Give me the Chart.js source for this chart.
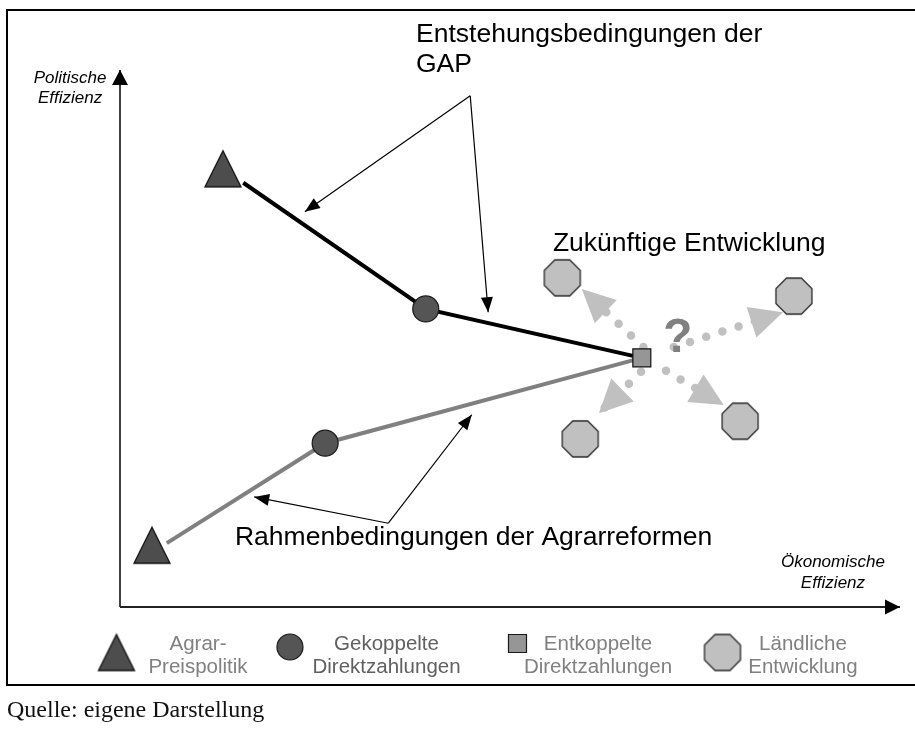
<!DOCTYPE html>
<html>
<head>
<meta charset="utf-8">
<script src="https://cdn.jsdelivr.net/npm/chart.js@4.4.0/dist/chart.umd.min.js"></script>
<style>
  html, body { margin: 0; padding: 0; background: #fff; overflow: hidden; }
  #wrap { position: relative; width: 915px; height: 733px; }
  #frame { position: absolute; left: 6px; top: 9px; width: 1000px; height: 673px; border: 2px solid #000; }
  #chart { position: absolute; left: 0; top: 0; }
  #quelle { position: absolute; left: 7px; top: 697px; font: 24px/24px "Liberation Serif", "Times New Roman", serif; color: #111; white-space: nowrap; }
</style>
</head>
<body>
<div id="wrap">
  <div id="frame"></div>
  <canvas id="chart" width="915" height="733"></canvas>
  <div id="quelle">Quelle: eigene Darstellung</div>
</div>
<script>
/*
  Schema: Politische vs. Ökonomische Effizienz der Agrarpolitik.
  Both axes run 0..100 (index units, origin = axis crossing).
*/

// ---- data (x = ökonomische Effizienz, y = politische Effizienz) ----
const agrarPreis  = [{ x: 13.2, y: 81.6 }, { x: 4.1, y: 11.5 }];
const gekoppelt   = [{ x: 39.2, y: 55.5 }, { x: 26.3, y: 30.5 }];
const entkoppelt  = [{ x: 66.9, y: 46.4 }];
const laendlich   = [{ x: 56.7, y: 61.3 }, { x: 86.4, y: 57.9 }, { x: 59.0, y: 31.3 }, { x: 79.5, y: 34.6 }];

const gapPfad     = [{ x: 15.8, y: 79.0 }, { x: 39.2, y: 55.5 }, { x: 66.9, y: 46.4 }];
const reformPfad  = [{ x: 6.0, y: 11.9 }, { x: 26.3, y: 30.5 }, { x: 66.9, y: 46.4 }];

const zukunftPfeile = [
  [{ x: 67.1, y: 48.4 }, { x: 59.2, y: 59.2 }],
  [{ x: 71.0, y: 48.4 }, { x: 85.0, y: 54.9 }],
  [{ x: 66.8, y: 43.8 }, { x: 61.4, y: 36.1 }],
  [{ x: 70.0, y: 44.0 }, { x: 77.4, y: 37.6 }]
];

const gapHinweis    = [[{ x: 44.9, y: 95.2 }, { x: 23.7, y: 73.6 }], [{ x: 44.9, y: 95.2 }, { x: 47.2, y: 54.9 }]];
const reformHinweis = [[{ x: 34.4, y: 15.6 }, { x: 17.2, y: 20.5 }], [{ x: 34.4, y: 15.6 }, { x: 45.1, y: 35.8 }]];

const achseX = [{ x: 0, y: 0 }, { x: 100, y: 0 }];
const achseY = [{ x: 0, y: 0 }, { x: 0, y: 100 }];

// ---- texts ----
const titelGap     = ["Entstehungsbedingungen der", "GAP"];
const titelZukunft = "Zukünftige Entwicklung";
const titelReform  = "Rahmenbedingungen der Agrarreformen";
const achseYTitel  = ["Politische", "Effizienz"];
const achseXTitel  = ["Ökonomische", "Effizienz"];
const legendLabels = [["Agrar-", "Preispolitik"], ["Gekoppelte", "Direktzahlungen"], ["Entkoppelte", "Direktzahlungen"], ["Ländliche", "Entwicklung"]];

const SANS = '"Liberation Sans", Arial, sans-serif';

// custom marker shapes (Chart.js has no octagon, and the triangle is not equilateral)
function makeShape(kind, size, fill, stroke) {
  const c = document.createElement("canvas");
  c.width = c.height = size + 4;
  const g = c.getContext("2d");
  const m = c.width / 2;
  g.beginPath();
  if (kind === "triangle") {
    g.moveTo(m, 2);
    g.lineTo(2 + size, 2 + size);
    g.lineTo(2, 2 + size);
  } else {
    const r = size / 2 / Math.cos(Math.PI / 8);
    for (let k = 0; k < 8; k++) {
      const a = Math.PI / 8 + k * Math.PI / 4;
      g.lineTo(m + r * Math.cos(a), m + r * Math.sin(a));
    }
  }
  g.closePath();
  g.fillStyle = fill;
  g.fill();
  g.lineWidth = 1.3;
  g.strokeStyle = stroke;
  g.stroke();
  return c;
}

const triangleImg = makeShape("triangle", 36, "#4d4d4d", "#111");
const octagonImg  = makeShape("octagon", 36, "#c0c0c0", "#2a2a2a");

function arrowLine(points, color, width, head, order, dash) {
  return {
    data: points,
    showLine: true,
    borderColor: color,
    borderWidth: width,
    borderDash: dash || [],
    borderCapStyle: dash ? "round" : "butt",
    pointRadius: 0,
    arrowHead: head,
    order: order
  };
}

// draws an arrow head at the last point of datasets that ask for one
const arrowHeadPlugin = {
  id: "arrowHeads",
  afterDatasetDraw(chart, args) {
    const ds = chart.data.datasets[args.index];
    if (!ds.arrowHead) return;
    const pts = args.meta.data;
    const a = pts[pts.length - 2], b = pts[pts.length - 1];
    const dx = b.x - a.x, dy = b.y - a.y;
    const d = Math.hypot(dx, dy);
    const ux = dx / d, uy = dy / d;
    const h = ds.arrowHead;
    const bx = b.x - ux * h.len, by = b.y - uy * h.len;
    const ctx = chart.ctx;
    ctx.save();
    ctx.beginPath();
    ctx.moveTo(b.x, b.y);
    ctx.lineTo(bx - uy * h.width / 2, by + ux * h.width / 2);
    ctx.lineTo(bx + uy * h.width / 2, by - ux * h.width / 2);
    ctx.closePath();
    ctx.fillStyle = h.color;
    ctx.fill();
    ctx.restore();
  }
};

// labels, axis titles and the legend row, placed through the scales
const textPlugin = {
  id: "texts",
  afterDraw(chart) {
    const ctx = chart.ctx;
    const sx = v => chart.scales.x.getPixelForValue(v);
    const sy = v => chart.scales.y.getPixelForValue(v);
    ctx.save();
    ctx.textBaseline = "alphabetic";

    ctx.fillStyle = "#000";
    ctx.font = "26.5px " + SANS;
    ctx.textAlign = "left";
    ctx.fillText(titelGap[0], sx(37.95), sy(105.2));
    ctx.fillText(titelGap[1], sx(37.95), sy(99.6));
    ctx.fillText(titelZukunft, sx(55.5), sy(66.3));
    ctx.fillText(titelReform, sx(14.74), sy(11.55));

    ctx.font = "bold 48px " + SANS;
    ctx.textAlign = "center";
    ctx.fillStyle = "#808080";
    ctx.fillText("?", sx(71.5), sy(47.5));

    ctx.fillStyle = "#000";
    ctx.font = "italic 17px " + SANS;
    ctx.fillText(achseYTitel[0], sx(-6.4), sy(97.6));
    ctx.fillText(achseYTitel[1], sx(-6.4), sy(93.85));
    ctx.fillText(achseXTitel[0], sx(91.4), sy(7.45));
    ctx.fillText(achseXTitel[1], sx(91.4), sy(3.54));

    // legend
    const markX = [-0.45, 21.79, 50.96, 77.24];
    const markY = [-8.47, -7.45, -6.8, -8.47];
    const textX = [10.0, 34.17, 61.28, 87.56];
    const textColor = ["#808080", "#606060", "#808080", "#808080"];

    ctx.drawImage(triangleImg, sx(markX[0]) - triangleImg.width / 2, sy(markY[0]) - triangleImg.height / 2);
    ctx.beginPath();
    ctx.arc(sx(markX[1]), sy(markY[1]), 13, 0, Math.PI * 2);
    ctx.fillStyle = "#555";
    ctx.fill();
    ctx.lineWidth = 1.2;
    ctx.strokeStyle = "#1a1a1a";
    ctx.stroke();
    ctx.beginPath();
    ctx.rect(sx(markX[2]) - 9, sy(markY[2]) - 9, 18, 18);
    ctx.fillStyle = "#969696";
    ctx.fill();
    ctx.stroke();
    ctx.drawImage(octagonImg, sx(markX[3]) - octagonImg.width / 2, sy(markY[3]) - octagonImg.height / 2);

    ctx.font = "20.5px " + SANS;
    ctx.textAlign = "center";
    legendLabels.forEach((lines, i) => {
      ctx.fillStyle = textColor[i];
      ctx.fillText(lines[0], sx(textX[i]), sy(-8.0));
      ctx.fillText(lines[1], sx(textX[i]), sy(-12.29));
    });
    ctx.restore();
  }
};

const datasets = [
  { label: "Agrar-Preispolitik", data: agrarPreis, pointStyle: triangleImg, pointRadius: 18, order: 0 },
  { label: "Gekoppelte Direktzahlungen", data: gekoppelt, pointStyle: "circle", pointRadius: 13,
    backgroundColor: "#555", borderColor: "#1a1a1a", borderWidth: 1.2, order: 0 },
  { label: "Entkoppelte Direktzahlungen", data: entkoppelt, pointStyle: "rect", pointRadius: 12.7,
    backgroundColor: "#969696", borderColor: "#111", borderWidth: 1.2, order: 0 },
  { label: "Ländliche Entwicklung", data: laendlich, pointStyle: octagonImg, pointRadius: 19, order: 0 },

  { label: "GAP", data: gapPfad, showLine: true, borderColor: "#000", borderWidth: 4, pointRadius: 0, order: 1 },
  { label: "Reformen", data: reformPfad, showLine: true, borderColor: "#808080", borderWidth: 4, pointRadius: 0, order: 1 }
];

zukunftPfeile.forEach(p => datasets.push(arrowLine(p, "#c0c0c0", 8.5, { len: 33, width: 32, color: "#c0c0c0" }, 2, [0, 17])));
gapHinweis.concat(reformHinweis).forEach(p => datasets.push(arrowLine(p, "#000", 1.2, { len: 15, width: 12, color: "#000" }, 1)));
datasets.push(arrowLine(achseX, "#222", 1.8, { len: 15, width: 15, color: "#000" }, 3));
datasets.push(arrowLine(achseY, "#111", 1.6, { len: 15, width: 16, color: "#000" }, 3));

new Chart(document.getElementById("chart"), {
  type: "scatter",
  data: { datasets: datasets },
  options: {
    responsive: false,
    devicePixelRatio: 1,
    animation: false,
    events: [],
    layout: { padding: 0, autoPadding: false },
    plugins: {
      legend: { display: false },
      tooltip: { enabled: false }
    },
    scales: {
      x: { type: "linear", min: -15.385, max: 101.923, display: false },
      y: { type: "linear", min: -23.464, max: 113.035, display: false }
    }
  },
  plugins: [arrowHeadPlugin, textPlugin]
});
</script>
</body>
</html>
